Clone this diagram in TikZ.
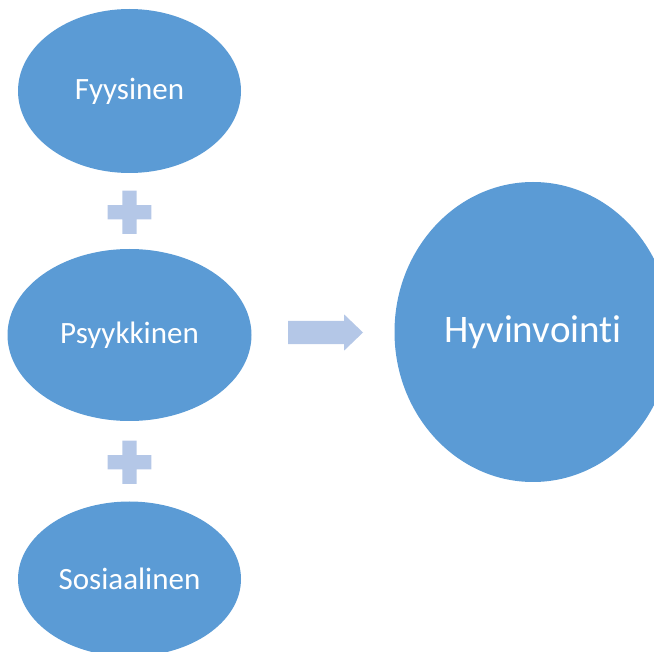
\documentclass[tikz,border=0pt]{standalone}
\usepackage{fontspec}
\setmainfont[Ligatures={NoCommon,NoRequired}]{Carlito}
\usetikzlibrary{shapes.geometric}
\definecolor{bluefill}{HTML}{5B9BD5}
\definecolor{lightblue}{HTML}{B4C7E7}
\begin{document}
\begin{tikzpicture}[x=1pt,y=-1pt,
  bubble/.style={ellipse, fill=bluefill, draw=none, inner sep=0pt, text=white,
    font=\fontsize{31}{37}\selectfont},
  plusmark/.style={fill=lightblue},
  blockarrow/.style={fill=lightblue}]
\useasboundingbox (0,0) rectangle (654,652);
\clip (0,0) rectangle (654,652);
\node[bubble, minimum width=223pt, minimum height=164pt] (fyy) at (129.5,91) {Fyysinen};
\node[bubble, minimum width=244pt, minimum height=172pt] (psy) at (129.5,335) {Psyykkinen};
\node[bubble, minimum width=223pt, minimum height=155pt] (sos) at (129.5,579) {Sosiaalinen};
\node[bubble, minimum width=277pt, minimum height=300pt, font=\fontsize{39}{46}\selectfont] (hyv) at (533,332) {Hyvinvointi};
% plus signs
\coordinate (p1) at (129.5,212.3);
\coordinate (p2) at (129.5,462.3);
\foreach \p in {p1,p2}{
  \fill[plusmark] ([shift={(-7.2,-21.7)}]\p) -- ++(14.4,0) -- ++(0,14.5) -- ++(14.6,0) -- ++(0,14.4)
    -- ++(-14.6,0) -- ++(0,14.5) -- ++(-14.4,0) -- ++(0,-14.5) -- ++(-14.6,0) -- ++(0,-14.4)
    -- ++(14.6,0) -- cycle;
}
% block arrow
\coordinate (arr) at (288,332.5);
\fill[blockarrow] ([shift={(0,-11.7)}]arr) -- ++(56,0) -- ++(0,-6.5) -- ++(19,18.2)
  -- ++(-19,18.2) -- ++(0,-6.5) -- ++(-56,0) -- cycle;
\end{tikzpicture}
\end{document}
